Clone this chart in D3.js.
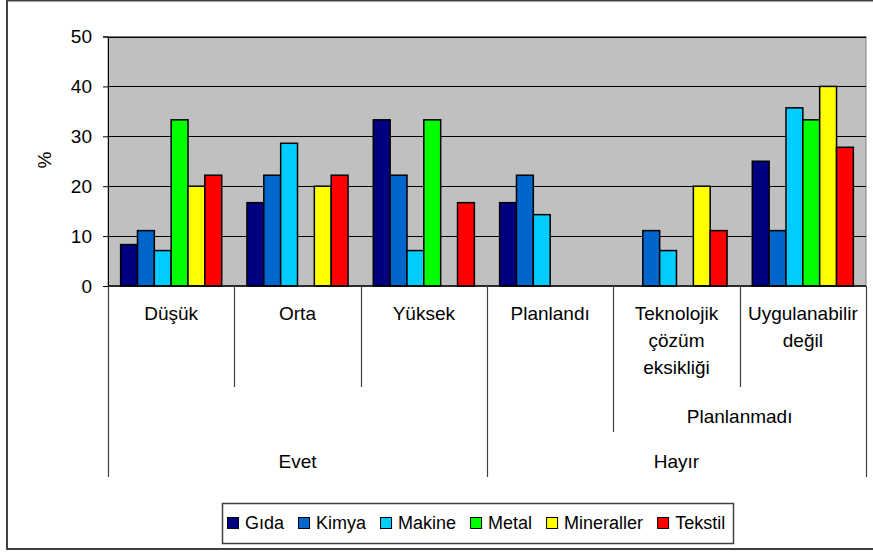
<!DOCTYPE html>
<html><head><meta charset="utf-8">
<script src="https://cdn.jsdelivr.net/npm/d3@7"></script>
<style>body{margin:0;background:#fff}svg{display:block}text{font-family:"Liberation Sans",Arial,sans-serif;fill:#000}</style>
</head><body><svg id="c" width="873" height="555"></svg>
<script>
const categories = ["Düşük","Orta","Yüksek","Planlandı","Teknolojik\nçözüm\neksikliği","Uygulanabilir\ndeğil"];
const series = ["Gıda","Kimya","Makine","Metal","Mineraller","Tekstil"];
const colors = ["#000080","#0066CC","#00CCFF","#00FF00","#FFFF00","#FF0000"];
const gida       = [8.3, 16.7, 33.3, 16.7, 0, 25.0];
const kimya      = [11.1, 22.2, 22.2, 22.2, 11.1, 11.1];
const makine     = [7.1, 28.6, 7.1, 14.3, 7.1, 35.7];
const metal      = [33.3, 0, 33.3, 0, 0, 33.3];
const mineraller = [20.0, 20.0, 0, 0, 20.0, 40.0];
const tekstil    = [22.2, 22.2, 16.7, 0, 11.1, 27.8];
const values = [gida, kimya, makine, metal, mineraller, tekstil];
const yTicks = [0,10,20,30,40,50];
const level2 = [{label:"Planlanmadı", from:4, to:5}];
const level3 = [{label:"Evet", from:0, to:2},{label:"Hayır", from:3, to:5}];
const yTitle = "%";

const svg = d3.select("#c");
svg.append("rect").attr("width",873).attr("height",555).attr("fill","#fff");
svg.append("rect").attr("x",7).attr("y",0.5).attr("width",900).attr("height",548.5)
  .attr("fill","none").attr("stroke","#404040").attr("stroke-width",2);

const L=108, R=866, T=36.5, B=286;
const x0 = d3.scaleBand().domain(d3.range(categories.length)).range([L,R]).padding(0);
const bw = x0.bandwidth();
const gapFrac = 0.75/7.5;
const x1 = d3.scaleBand().domain(series).range([bw*gapFrac, bw*(1-gapFrac)]).padding(0);
const y = d3.scaleLinear().domain([0,50]).range([B,T]);

svg.append("rect").attr("x",L).attr("y",T).attr("width",R-L).attr("height",B-T)
  .attr("fill","#C0C0C0").attr("stroke","#808080").attr("stroke-width",1);

svg.append("g").selectAll("line").data(yTicks.filter(d=>d>0)).join("line")
  .attr("x1",L).attr("x2",R).attr("y1",d=>Math.round(y(d))+0.5).attr("y2",d=>Math.round(y(d))+0.5)
  .attr("stroke","#000").attr("stroke-width",1);

const yAxis = svg.append("g").attr("transform",`translate(${L},0)`)
  .call(d3.axisLeft(y).tickValues(yTicks).tickSize(5).tickPadding(11).tickFormat(d3.format("d")));
yAxis.select(".domain").attr("stroke","#000");
yAxis.selectAll(".tick line").attr("stroke","#000");
yAxis.selectAll("text").attr("font-size","19px").attr("font-family","Liberation Sans, Arial, sans-serif").attr("fill","#000");

svg.append("text").attr("transform","translate(51,160) rotate(-90)").attr("text-anchor","middle")
  .attr("font-size","19px").text(yTitle);

// bars
const bars = [];
categories.forEach((c,ci)=>series.forEach((s,si)=>{ const v=values[si][ci]; if(v>0) bars.push({ci,si,v}); }));
svg.append("g").selectAll("rect").data(bars).join("rect")
  .attr("x",d=>x0(d.ci)+x1(series[d.si]))
  .attr("width",x1.bandwidth())
  .attr("y",d=>y(d.v)).attr("height",d=>B-y(d.v))
  .attr("fill",d=>colors[d.si]).attr("stroke","#000").attr("stroke-width",1.5);

// x axis line
svg.append("line").attr("x1",L).attr("x2",R).attr("y1",B).attr("y2",B).attr("stroke","#000").attr("stroke-width",1.5);

// dividers
const divBottom = [477,387,387,477,432,387,477];
const bounds = d3.range(categories.length+1).map(i=> i<categories.length ? x0(i) : R);
svg.append("g").selectAll("line").data(bounds).join("line")
  .attr("x1",d=>Math.round(d)+0.5).attr("x2",d=>Math.round(d)+0.5).attr("y1",B).attr("y2",(d,i)=>divBottom[i])
  .attr("stroke","#404040").attr("stroke-width",1.2);

// category labels
const lh = 27;
categories.forEach((c,ci)=>{
  const t = svg.append("text").attr("text-anchor","middle").attr("font-size","19px");
  c.split("\n").forEach((ln,k)=>t.append("tspan").attr("x",x0(ci)+bw/2).attr("y",320+k*lh).text(ln));
});
level2.forEach(g=>{
  svg.append("text").attr("text-anchor","middle").attr("font-size","19px")
    .attr("x",(x0(g.from)+x0(g.to)+bw)/2).attr("y",423).text(g.label);
});
level3.forEach(g=>{
  svg.append("text").attr("text-anchor","middle").attr("font-size","19px")
    .attr("x",(x0(g.from)+x0(g.to)+bw)/2).attr("y",468).text(g.label);
});

// legend
const lg = svg.append("g");
lg.append("rect").attr("x",222.5).attr("y",503.5).attr("width",511).attr("height",40)
  .attr("fill","#fff").attr("stroke","#404040").attr("stroke-width",1.5);
let lx = 227;
series.forEach((s,i)=>{
  lg.append("rect").attr("x",lx+0.5).attr("y",517.5).attr("width",11).attr("height",11)
    .attr("fill",colors[i]).attr("stroke","#000").attr("stroke-width",1);
  const t = lg.append("text").attr("x",lx+18).attr("y",529).attr("font-size","18px").text(s);
  const w = t.node().getComputedTextLength();
  lx = lx + 18 + w + 14;
});
</script></body></html>
